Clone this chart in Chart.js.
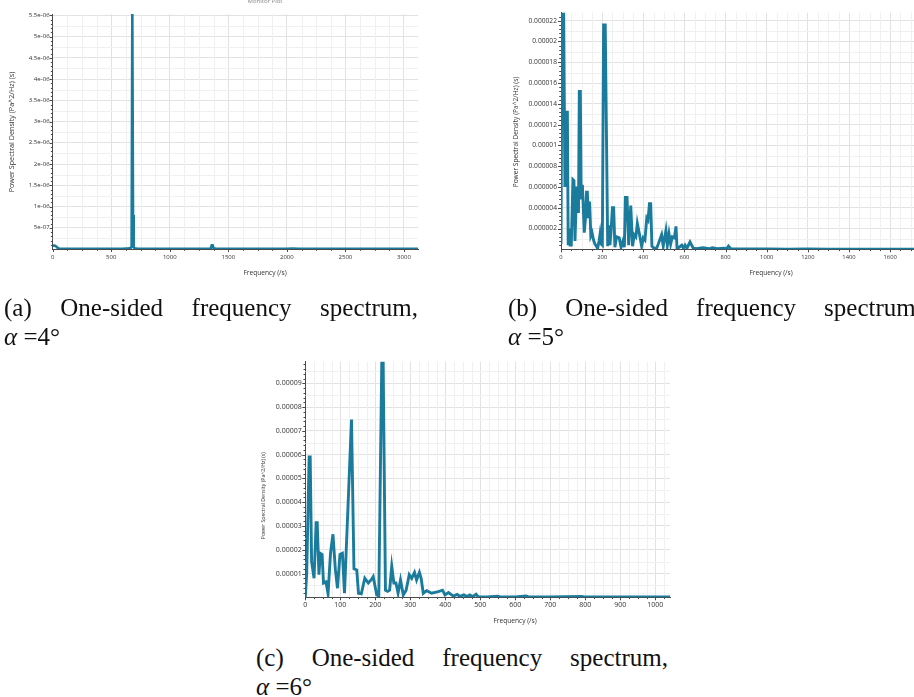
<!DOCTYPE html>
<html>
<head>
<meta charset="utf-8">
<title>One-sided frequency spectra</title>
<script src="https://cdn.jsdelivr.net/npm/chart.js"></script>
<style>
  html, body { margin: 0; padding: 0; background: #fff; }
  body { position: relative; width: 914px; height: 697px; overflow: hidden; }
  canvas { position: absolute; }
  .caption {
    position: absolute;
    font-family: 'Liberation Serif', 'Times New Roman', serif;
    font-size: 25px;
    line-height: 29px;
    color: #111;
    white-space: nowrap;
  }
  .caption .words { display: flex; justify-content: space-between; }
</style>
</head>
<body>
<canvas id="psdA" width="440" height="290" style="left:0px;top:0px"></canvas>
<canvas id="psdB" width="440" height="290" style="left:490px;top:0px"></canvas>
<canvas id="psdC" width="450" height="290" style="left:240px;top:350px"></canvas>

<div class="caption" style="left:4px;top:293px;width:414px">
  <div class="words"><span>(a)</span><span>One-sided</span><span>frequency</span><span>spectrum,</span></div>
  <div><i>α</i> =4°</div>
</div>
<div class="caption" style="left:508px;top:293px;width:414px">
  <div class="words"><span>(b)</span><span>One-sided</span><span>frequency</span><span>spectrum,</span></div>
  <div><i>α</i> =5°</div>
</div>
<div class="caption" style="left:256px;top:643px;width:412px">
  <div class="words"><span>(c)</span><span>One-sided</span><span>frequency</span><span>spectrum,</span></div>
  <div><i>α</i> =6°</div>
</div>

<script>
// alpha = 4 deg : one dominant tone near 680 Hz and its harmonic
const freqA = [0, 10, 20, 30, 40, 55, 100, 200, 300, 400, 500, 600, 650, 665, 674,
  680, 686, 692, 700, 720, 800, 1000, 1200, 1300, 1350, 1358, 1366, 1374, 1400,
  1600, 1800, 2000, 2050, 2100, 2400, 2700, 3000, 3120];
const psdA = [8e-8, 8e-8, 7.5e-8, 6e-8, 3e-8, 1e-8, 5e-9, 4e-9, 4e-9, 4e-9, 4e-9, 6e-9, 1.5e-8, 2.5e-8, 5e-8,
  5.6e-6, 8e-7, 4e-8, 1.5e-8, 8e-9, 5e-9, 4e-9, 4e-9, 5e-9, 1.2e-8, 9e-8, 9e-8, 1.5e-8, 5e-9,
  4e-9, 4e-9, 5e-9, 8e-9, 5e-9, 4e-9, 4e-9, 4e-9, 4e-9];
const xLabelsA = ['0', '500', '1000', '1500', '2000', '2500', '3000'];
const yLabelsA = ['5e-07', '1e-06', '1.5e-06', '2e-06', '2.5e-06', '3e-06', '3.5e-06',
  '4e-06', '4.5e-06', '5e-06', '5.5e-06'];

// alpha = 5 deg
const freqB = [0, 5, 13, 19, 25, 31, 35, 40, 44, 50, 58, 63, 68, 76, 81, 85, 89, 94, 98, 104,
  113, 119, 124, 128, 133, 139, 145, 151, 158, 165, 172, 178, 185, 190, 196, 201,
  207, 215, 227, 232, 238, 244, 250, 256, 262, 270, 283, 292, 303, 308, 313, 321,
  329, 339, 348, 356, 364, 371, 381, 392, 400, 408, 417, 423, 430, 436, 442, 452,
  465, 473, 489, 497, 510, 517, 525, 533, 541, 551, 559, 564, 575, 587, 595, 603,
  612, 627, 643, 660, 690, 720, 735, 760, 790, 805, 814, 825, 900, 1000, 1100,
  1200, 1300, 1400, 1500, 1600, 1750];
const psdB = [0.5e-6, 22.8e-6, 22.8e-6, 6.0e-6, 13.2e-6, 13.2e-6, 0.4e-6, 2.0e-6, 0.4e-6, 0.4e-6,
  6.7e-6, 6.6e-6, 0.8e-6, 5.9e-6, 5.9e-6, 3.5e-6, 15.2e-6, 15.2e-6, 4.8e-6, 6.2e-6,
  1.6e-6, 3.0e-6, 5.5e-6, 5.5e-6, 3.0e-6, 4.6e-6, 1.3e-6, 1.6e-6, 0.9e-6, 0.5e-6,
  0.3e-6, 0.1e-6, 0.8e-6, 1.5e-6, 0.5e-6, 0.4e-6,
  21.6e-6, 21.6e-6, 0.3e-6, 2.3e-6, 0.4e-6, 2.0e-6, 4.0e-6, 4.0e-6, 0.2e-6, 1.2e-6,
  1.1e-6, 0.2e-6, 0.9e-6, 0.2e-6, 5.0e-6, 5.0e-6,
  0.4e-6, 4.2e-6, 0.3e-6, 1.4e-6, 1.2e-6, 2.5e-6, 1.5e-6, 0.3e-6, 1.1e-6, 0.9e-6,
  3.0e-6, 2.8e-6, 4.4e-6, 4.4e-6, 0.3e-6, 0.1e-6,
  0.1e-6, 0.5e-6, 1.4e-6, 0.3e-6, 1.8e-6, 0.4e-6, 1.5e-6, 0.5e-6, 1.2e-6, 1.1e-6,
  2.2e-6, 0.1e-6, 0.2e-6, 0.4e-6, 0.1e-6, 0.4e-6,
  0.1e-6, 0.7e-6, 0.1e-6, 0.05e-6, 0.15e-6, 0.05e-6, 0.15e-6, 0.05e-6, 0.1e-6, 0.05e-6,
  0.3e-6, 0.05e-6, 0.03e-6, 0.03e-6, 0.02e-6,
  0.03e-6, 0.02e-6, 0.02e-6, 0.02e-6, 0.02e-6, 0.02e-6];
const xLabelsB = ['0', '200', '400', '600', '800', '1000', '1200', '1400', '1600'];
const yLabelsB = ['0.000002', '0.000004', '0.000006', '0.000008', '0.00001', '0.000012',
  '0.000014', '0.000016', '0.000018', '0.00002', '0.000022'];

// alpha = 6 deg
const freqC = [0, 4, 11, 14, 18, 25, 31, 34, 39, 43, 48, 52, 59, 65, 72, 79, 86, 92, 99, 106,
  112, 132, 139, 147, 152, 160, 170, 180, 189, 194, 204, 210, 219, 222, 229, 235,
  241, 247, 253, 259, 265, 272, 280, 288, 297, 304, 312, 318, 326, 331, 337, 347,
  361, 380, 392, 399, 409, 423, 434, 442, 453, 462, 470, 478, 488, 494, 520, 550,
  560, 600, 630, 640, 700, 790, 800, 900, 1000, 1042];
const psdC = [0, 1.0e-5, 5.9e-5, 5.9e-5, 1.5e-5, 0.8e-5, 3.14e-5, 3.14e-5, 0.95e-5, 1.85e-5,
  1.8e-5, 0.6e-5, 0.65e-5, 0.15e-5, 1.85e-5, 2.65e-5, 1.15e-5, 0.38e-5, 1.8e-5, 1.85e-5,
  0.17e-5, 7.48e-5, 1.2e-5, 1.15e-5, 0.17e-5, 0.15e-5, 0.8e-5, 0.6e-5, 0.75e-5, 0.87e-5,
  0.1e-5, 0.05e-5, 10.5e-5, 10.5e-5, 0.3e-5, 0.25e-5,
  0.3e-5, 1.3e-5, 0.6e-5, 0.6e-5, 0.17e-5, 0.73e-5, 0.1e-5, 0.3e-5, 0.95e-5, 0.8e-5,
  1.05e-5, 0.73e-5, 1.05e-5, 0.8e-5, 0.17e-5, 0.28e-5,
  0.17e-5, 0.24e-5, 0.3e-5, 0.1e-5, 0.2e-5, 0.05e-5, 0.12e-5, 0.04e-5, 0.1e-5, 0.03e-5,
  0.1e-5, 0.03e-5, 0.13e-5, 0.02e-5, 0.01e-5, 0.05e-5,
  0.01e-5, 0.01e-5, 0.06e-5, 0.01e-5, 0.01e-5, 0.04e-5, 0.01e-5, 0.01e-5, 0.01e-5, 0.01e-5];
const xLabelsC = ['0', '100', '200', '300', '400', '500', '600', '700', '800', '900', '1000'];
const yLabelsC = ['0.00001', '0.00002', '0.00003', '0.00004', '0.00005', '0.00006',
  '0.00007', '0.00008', '0.00009'];

const LINE_COLOR = '#1b7b9c';
const AXIS_COLOR = '#4a4a4a';
const TEXT_COLOR = '#333';
const FONT = '"Open Sans", "Noto Sans", sans-serif';

// values between two labelled ticks, used for the faint grid and short tick marks
function minorValues(scale, parts) {
    const vals = scale.ticks.map(t => t.value);
    if (!parts || vals.length < 2) return [];
    const step = (vals[1] - vals[0]) / parts;
    const out = [];
    for (let i = 1; i * step <= scale.max + step * 1e-6; i++) {
        if (i % parts) out.push(i * step);
    }
    return out;
}

const minorMarks = {
    id: 'minorMarks',
    beforeDatasetsDraw(chart, args, opts) {
        const { ctx, chartArea: area } = chart;
        const xs = chart.scales.x, ys = chart.scales.y;
        ctx.save();
        ctx.strokeStyle = opts.gridColor;
        ctx.lineWidth = 1;
        ctx.beginPath();
        for (const v of minorValues(xs, opts.xGrid)) {
            const px = Math.round(xs.getPixelForValue(v)) + 0.5;
            ctx.moveTo(px, area.top);
            ctx.lineTo(px, area.bottom);
        }
        for (const v of minorValues(ys, opts.yGrid)) {
            const py = Math.round(ys.getPixelForValue(v)) + 0.5;
            ctx.moveTo(area.left, py);
            ctx.lineTo(area.right, py);
        }
        ctx.stroke();
        ctx.restore();
    },
    afterDraw(chart, args, opts) {
        const { ctx, chartArea: area } = chart;
        const xs = chart.scales.x, ys = chart.scales.y;
        ctx.save();
        ctx.strokeStyle = AXIS_COLOR;
        ctx.lineWidth = 1;
        ctx.beginPath();
        const xTick = (v, len) => {
            const px = Math.round(xs.getPixelForValue(v)) + 0.5;
            ctx.moveTo(px, area.bottom);
            ctx.lineTo(px, area.bottom + len);
        };
        const yTick = (v, len) => {
            const py = Math.round(ys.getPixelForValue(v)) + 0.5;
            ctx.moveTo(area.left, py);
            ctx.lineTo(area.left - len, py);
        };
        xs.ticks.forEach(t => xTick(t.value, 3));
        ys.ticks.forEach(t => yTick(t.value, 3));
        minorValues(xs, opts.xTicks).forEach(v => xTick(v, 1.8));
        minorValues(ys, opts.yTicks).forEach(v => yTick(v, 1.8));
        ctx.stroke();

        // axis captions sit at fixed spots of each panel
        ctx.textAlign = 'center';
        ctx.textBaseline = 'middle';
        for (const t of opts.titles || []) {
            ctx.save();
            ctx.fillStyle = t.color || TEXT_COLOR;
            ctx.font = t.size + 'px ' + FONT;
            ctx.translate(t.x, t.y);
            if (t.rotate) ctx.rotate(-Math.PI / 2);
            ctx.fillText(t.text, 0, 0);
            ctx.restore();
        }
        ctx.restore();
    }
};

function drawSpectrum(id, cfg) {
    const canvas = document.getElementById(id);
    const H = canvas.height, W = canvas.width;
    const xVals = cfg.xLabels.map(Number);
    const yVals = cfg.yLabels.map(Number);
    const points = cfg.freq.map((f, i) => ({ x: f, y: cfg.psd[i] }));

    return new Chart(canvas, {
        type: 'line',
        data: {
            datasets: [{
                data: points,
                borderColor: LINE_COLOR,
                borderWidth: cfg.lineWidth,
                pointRadius: 0,
                tension: 0,
                fill: false,
            }],
        },
        options: {
            responsive: false,
            animation: false,
            events: [],
            layout: { padding: { left: 0, top: cfg.area.top, right: W - cfg.area.right, bottom: 0 } },
            plugins: {
                legend: { display: false },
                tooltip: { enabled: false },
                minorMarks: {
                    gridColor: '#f0f0f0',
                    xGrid: cfg.xGrid, yGrid: cfg.yGrid,
                    xTicks: cfg.xMinor, yTicks: cfg.yMinor,
                    titles: cfg.titles,
                },
            },
            scales: {
                x: {
                    type: 'linear',
                    min: 0,
                    max: cfg.xMax,
                    afterBuildTicks: s => { s.ticks = xVals.map(v => ({ value: v })); },
                    afterFit: s => { s.height = H - cfg.area.bottom; },
                    ticks: {
                        autoSkip: false,
                        maxRotation: 0,
                        padding: cfg.xPad,
                        color: TEXT_COLOR,
                        font: { family: FONT, size: cfg.xTickSize },
                        callback: (v, i) => cfg.xLabels[i],
                    },
                    grid: { color: '#e2e2e2', drawTicks: false },
                    border: { display: true, color: AXIS_COLOR, width: 1 },
                },
                y: {
                    type: 'linear',
                    min: 0,
                    max: cfg.yMax,
                    afterBuildTicks: s => { s.ticks = yVals.map(v => ({ value: v })); },
                    afterFit: s => { s.width = cfg.area.left; },
                    ticks: {
                        autoSkip: false,
                        padding: cfg.yPad,
                        color: TEXT_COLOR,
                        font: { family: FONT, size: cfg.yTickSize },
                        callback: (v, i) => cfg.yLabels[i],
                    },
                    grid: { color: '#e2e2e2', drawTicks: false },
                    border: { display: true, color: AXIS_COLOR, width: 1 },
                },
            },
        },
        plugins: [minorMarks],
    });
}

const yTitle = 'Power Spectral Density (Pa^2/Hz) (s)';
const xTitle = 'Frequency (/s)';

drawSpectrum('psdA', {
    freq: freqA, psd: psdA, xLabels: xLabelsA, yLabels: yLabelsA,
    xMax: 3120, yMax: 5.53e-6,
    area: { left: 52.7, top: 14, right: 418, bottom: 249 },
    xTickSize: 6, yTickSize: 6.1, xPad: 4.8, yPad: 3, lineWidth: 2.6,
    xGrid: 4, yGrid: 2, xMinor: 4, yMinor: 5,
    titles: [
        { text: 'Monitor Plot', x: 265, y: 1.5, size: 6, color: '#888' },
        { text: yTitle, x: 11.7, y: 132, size: 7.2, rotate: true },
        { text: xTitle, x: 265, y: 273, size: 6.6 },
    ],
});

drawSpectrum('psdB', {
    freq: freqB, psd: psdB, xLabels: xLabelsB, yLabels: yLabelsB,
    xMax: 1750, yMax: 2.277e-5,
    area: { left: 71, top: 12.7, right: 431, bottom: 249.3 },
    xTickSize: 5.8, yTickSize: 6.7, xPad: 4.7, yPad: 4, lineWidth: 2.9,
    xGrid: 4, yGrid: 2, xMinor: 4, yMinor: 5,
    titles: [
        { text: yTitle, x: 26, y: 132, size: 6.6, rotate: true },
        { text: xTitle, x: 281, y: 273, size: 6.6 },
    ],
});

drawSpectrum('psdC', {
    freq: freqC, psd: psdC, xLabels: xLabelsC, yLabels: yLabelsC,
    xMax: 1042, yMax: 9.91e-5,
    area: { left: 65.3, top: 11.7, right: 430, bottom: 247.3 },
    xTickSize: 7, yTickSize: 7, xPad: 3.5, yPad: 3.6, lineWidth: 2.9,
    xGrid: 4, yGrid: 2, xMinor: 4, yMinor: 5,
    titles: [
        { text: yTitle, x: 23.3, y: 145.7, size: 5.2, rotate: true },
        { text: xTitle, x: 275, y: 270.7, size: 6.6 },
    ],
});
</script>
</body>
</html>
